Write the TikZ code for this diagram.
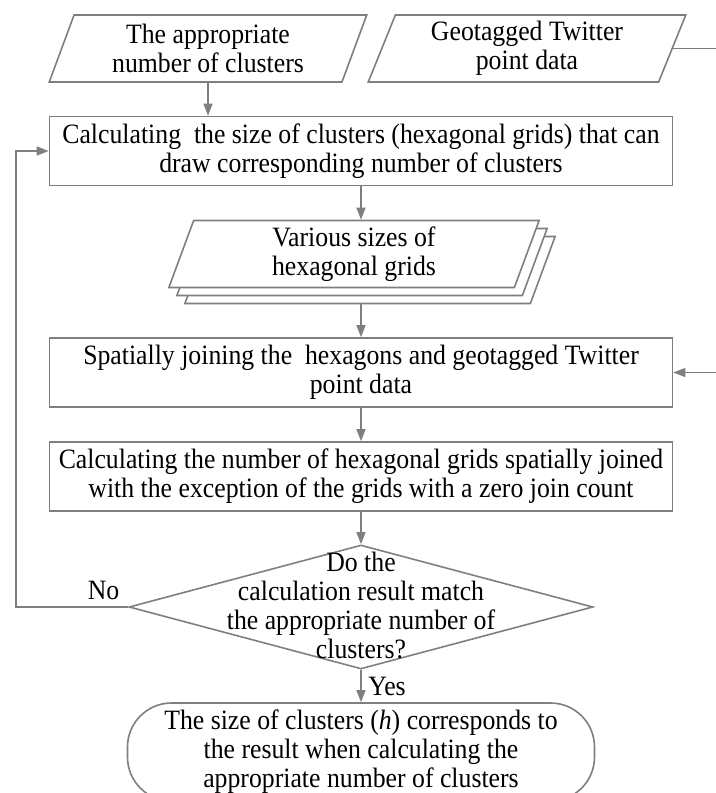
\documentclass[tikz,border=0pt]{standalone}
\usepackage{fontspec}
\setmainfont{Liberation Serif}[FakeStretch=0.92]
\usetikzlibrary{arrows.meta, positioning, shapes.geometric, shadows}
\definecolor{flowgray}{HTML}{7F7F7F}

\begin{document}
\begin{tikzpicture}[x=0.5pt,y=-0.5pt,
  every node/.style={font=\fontsize{14}{14.5}\selectfont, text=black},
  iobox/.style={trapezium, trapezium left angle=70, trapezium right angle=110, trapezium stretches=true, draw=flowgray, fill=white, line width=0.8pt, minimum width=159pt, minimum height=33.5pt, align=center, inner sep=0pt},
  procbox/.style={rectangle, draw=flowgray, fill=white, line width=0.8pt, minimum width=311.5pt, minimum height=34.5pt, align=center, inner sep=1pt},
  decision/.style={diamond, draw=flowgray, fill=white, line width=0.8pt, minimum width=232pt, minimum height=62pt, inner sep=0pt},
  termbox/.style={rectangle, rounded corners=22pt, draw=flowgray, fill=white, line width=0.8pt, minimum width=233.5pt, minimum height=49pt, align=center},
  arr/.style={-{Triangle[length=6pt,width=4.5pt]}, flowgray, line width=0.6pt},
  ln/.style={flowgray, line width=0.6pt},
]
\clip (0,0) rectangle (716,793);
\coordinate (edge) at (716,0);
\coordinate (loop) at (16,607);

\node[iobox] (app) at (208,48.5) {The appropriate\\number of clusters};
\node[iobox] (geo) at (527,48.5) {Geotagged Twitter\\point data};
\node[procbox] (calc) at (361,151) {Calculating\ \ the size of clusters (hexagonal grids) that can\\draw corresponding number of clusters};
\node[iobox, trapezium left angle=77, trapezium right angle=103, minimum width=186.5pt, double copy shadow={shadow xshift=4pt, shadow yshift=-4pt}] (grids) at (354,254) {Various sizes of\\hexagonal grids};
\node[procbox] (join) at (361,372.5) {Spatially joining the\ \ hexagons and geotagged Twitter\\point data};
\node[procbox] (count) at (361,476.5) {Calculating the number of hexagonal grids spatially joined\\with the exception of the grids with a zero join count};
\node[decision] (dec) at (361,607) {};
\node[align=center] (dectxt) at (361,605) {Do the\\calculation result match\\the appropriate number of\\clusters?};
\node[termbox] (stop) at (361,752) {The size of clusters (\textit{h}) corresponds to\\the result when calculating the\\appropriate number of clusters};
\coordinate (gridsback) at ([yshift=-8pt]grids.south -| calc.south);

\draw[arr] (app.south) -- (app.south |- calc.north);
\draw[ln] (geo.east) -- (geo.east -| edge);
\draw[arr] (calc.south) -- (calc.south |- grids.north);
\draw[arr] (gridsback) -- (join.north);
\draw[arr] (join.east -| edge) -- (join.east);
\draw[arr] (join.south) -- (count.north);
\draw[arr] (count.south) -- (dec.north);
\draw[arr] (dec.south) -- node[right] {Yes} (stop.north);
\draw[arr] (dec.west) -- node[above, pos=0.22] {No} (loop) |- (calc.west);
\end{tikzpicture}
\end{document}
